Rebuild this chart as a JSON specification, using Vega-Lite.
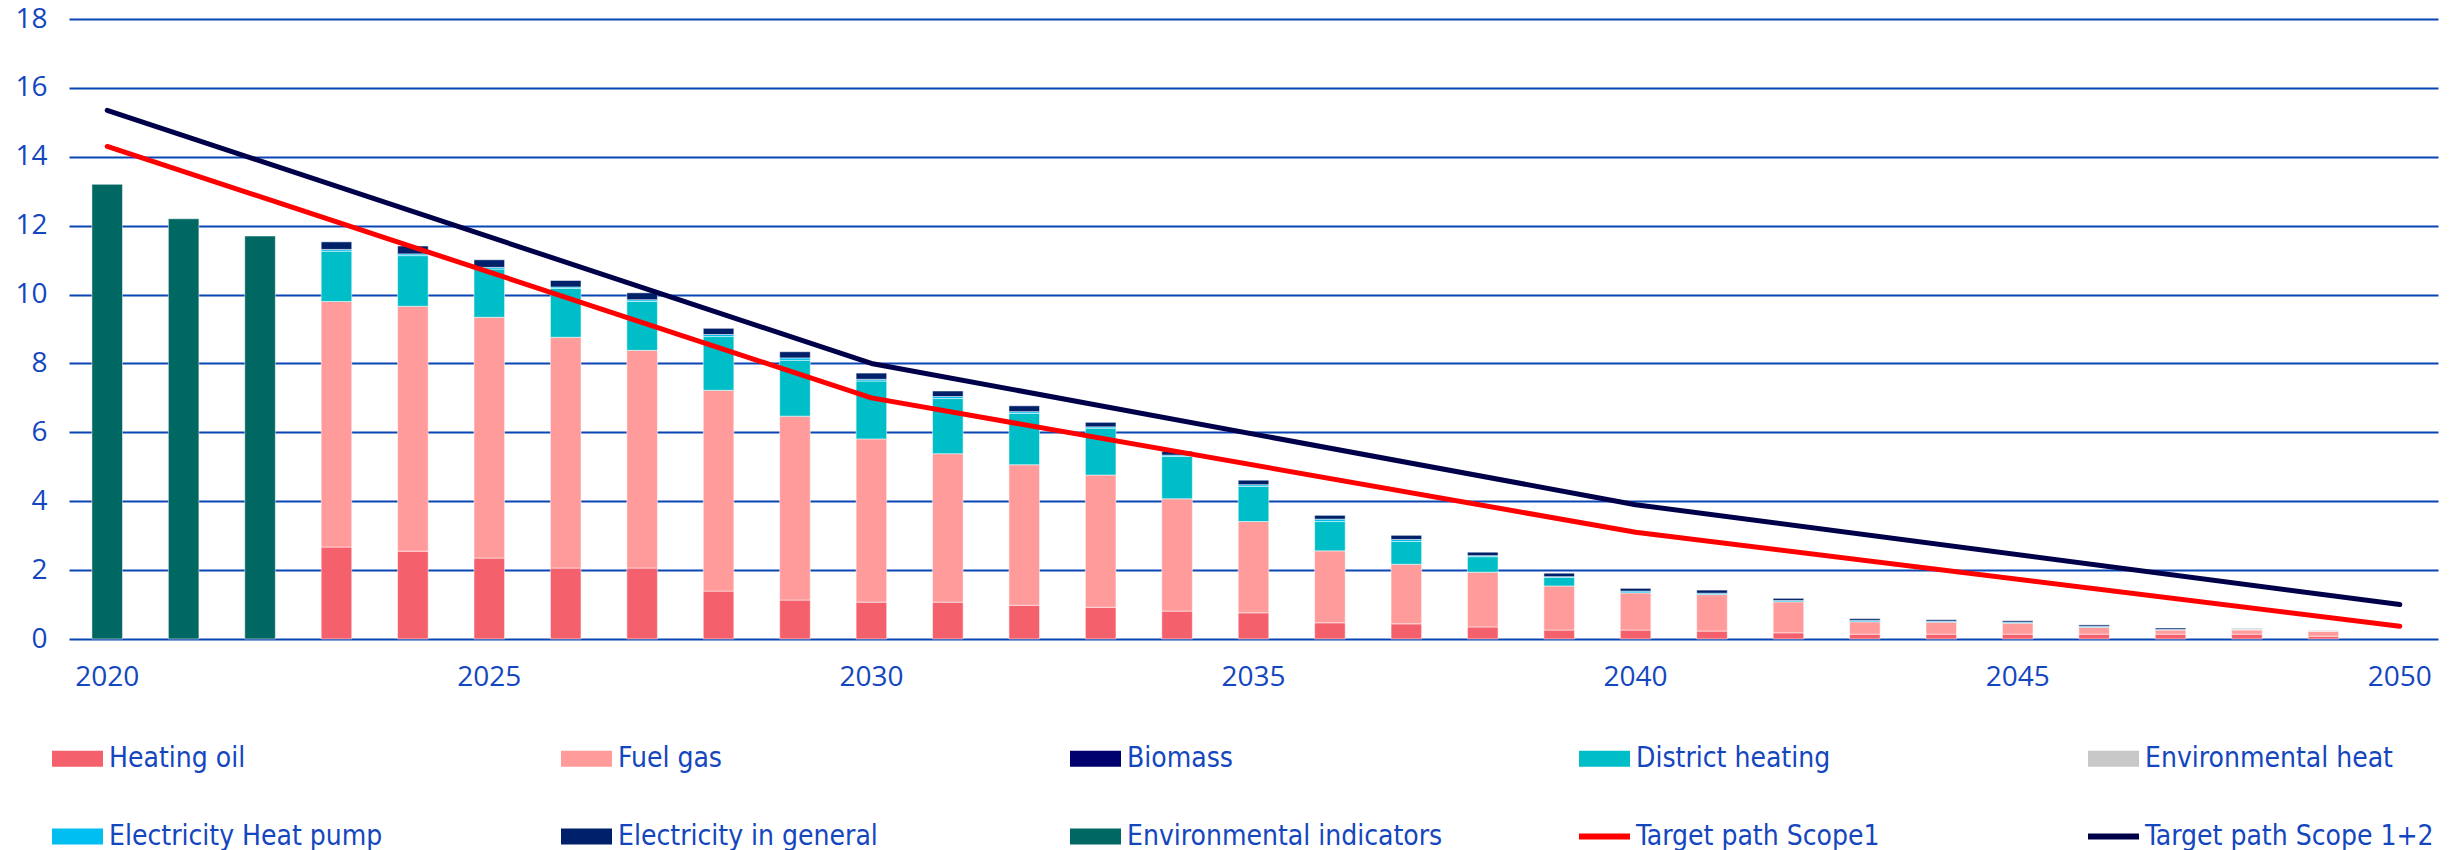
{
  "$schema": "https://vega.github.io/schema/vega-lite/v6.json",
  "width": 2369,
  "height": 620,
  "autosize": {"type": "none"},
  "padding": {"left": 69, "top": 19, "right": 17, "bottom": 211},
  "background": "white",
  "config": {
    "view": {"stroke": null},
    "font": "Open Sans"
  },
  "datasets": {
    "bars": [
      {"year": 2020, "category": "Environmental indicators", "value": 13.2},
      {"year": 2021, "category": "Environmental indicators", "value": 12.2},
      {"year": 2022, "category": "Environmental indicators", "value": 11.7},
      {"year": 2023, "category": "Heating oil", "value": 2.67},
      {"year": 2023, "category": "Fuel gas", "value": 7.13},
      {"year": 2023, "category": "District heating", "value": 1.46},
      {"year": 2023, "category": "Electricity Heat pump", "value": 0.05},
      {"year": 2023, "category": "Electricity in general", "value": 0.22},
      {"year": 2024, "category": "Heating oil", "value": 2.55},
      {"year": 2024, "category": "Fuel gas", "value": 7.11},
      {"year": 2024, "category": "District heating", "value": 1.47},
      {"year": 2024, "category": "Electricity Heat pump", "value": 0.05},
      {"year": 2024, "category": "Electricity in general", "value": 0.23},
      {"year": 2025, "category": "Heating oil", "value": 2.35},
      {"year": 2025, "category": "Fuel gas", "value": 6.99},
      {"year": 2025, "category": "District heating", "value": 1.40},
      {"year": 2025, "category": "Electricity Heat pump", "value": 0.05},
      {"year": 2025, "category": "Electricity in general", "value": 0.22},
      {"year": 2026, "category": "Heating oil", "value": 2.06},
      {"year": 2026, "category": "Fuel gas", "value": 6.70},
      {"year": 2026, "category": "District heating", "value": 1.42},
      {"year": 2026, "category": "Electricity Heat pump", "value": 0.04},
      {"year": 2026, "category": "Electricity in general", "value": 0.19},
      {"year": 2027, "category": "Heating oil", "value": 2.06},
      {"year": 2027, "category": "Fuel gas", "value": 6.32},
      {"year": 2027, "category": "District heating", "value": 1.42},
      {"year": 2027, "category": "Electricity Heat pump", "value": 0.05},
      {"year": 2027, "category": "Electricity in general", "value": 0.20},
      {"year": 2028, "category": "Heating oil", "value": 1.39},
      {"year": 2028, "category": "Fuel gas", "value": 5.83},
      {"year": 2028, "category": "District heating", "value": 1.56},
      {"year": 2028, "category": "Electricity Heat pump", "value": 0.06},
      {"year": 2028, "category": "Electricity in general", "value": 0.18},
      {"year": 2029, "category": "Heating oil", "value": 1.13},
      {"year": 2029, "category": "Fuel gas", "value": 5.34},
      {"year": 2029, "category": "District heating", "value": 1.62},
      {"year": 2029, "category": "Electricity Heat pump", "value": 0.07},
      {"year": 2029, "category": "Electricity in general", "value": 0.18},
      {"year": 2030, "category": "Heating oil", "value": 1.07},
      {"year": 2030, "category": "Fuel gas", "value": 4.74},
      {"year": 2030, "category": "District heating", "value": 1.68},
      {"year": 2030, "category": "Electricity Heat pump", "value": 0.05},
      {"year": 2030, "category": "Electricity in general", "value": 0.18},
      {"year": 2031, "category": "Heating oil", "value": 1.07},
      {"year": 2031, "category": "Fuel gas", "value": 4.31},
      {"year": 2031, "category": "District heating", "value": 1.60},
      {"year": 2031, "category": "Electricity Heat pump", "value": 0.06},
      {"year": 2031, "category": "Electricity in general", "value": 0.16},
      {"year": 2032, "category": "Heating oil", "value": 0.98},
      {"year": 2032, "category": "Fuel gas", "value": 4.08},
      {"year": 2032, "category": "District heating", "value": 1.49},
      {"year": 2032, "category": "Electricity Heat pump", "value": 0.05},
      {"year": 2032, "category": "Electricity in general", "value": 0.17},
      {"year": 2033, "category": "Heating oil", "value": 0.92},
      {"year": 2033, "category": "Fuel gas", "value": 3.84},
      {"year": 2033, "category": "District heating", "value": 1.36},
      {"year": 2033, "category": "Electricity Heat pump", "value": 0.04},
      {"year": 2033, "category": "Electricity in general", "value": 0.13},
      {"year": 2034, "category": "Heating oil", "value": 0.81},
      {"year": 2034, "category": "Fuel gas", "value": 3.26},
      {"year": 2034, "category": "District heating", "value": 1.23},
      {"year": 2034, "category": "Electricity Heat pump", "value": 0.04},
      {"year": 2034, "category": "Electricity in general", "value": 0.11},
      {"year": 2035, "category": "Heating oil", "value": 0.76},
      {"year": 2035, "category": "Fuel gas", "value": 2.65},
      {"year": 2035, "category": "District heating", "value": 1.02},
      {"year": 2035, "category": "Electricity Heat pump", "value": 0.05},
      {"year": 2035, "category": "Electricity in general", "value": 0.13},
      {"year": 2036, "category": "Heating oil", "value": 0.47},
      {"year": 2036, "category": "Fuel gas", "value": 2.09},
      {"year": 2036, "category": "District heating", "value": 0.85},
      {"year": 2036, "category": "Electricity Heat pump", "value": 0.07},
      {"year": 2036, "category": "Electricity in general", "value": 0.11},
      {"year": 2037, "category": "Heating oil", "value": 0.44},
      {"year": 2037, "category": "Fuel gas", "value": 1.73},
      {"year": 2037, "category": "District heating", "value": 0.66},
      {"year": 2037, "category": "Electricity Heat pump", "value": 0.06},
      {"year": 2037, "category": "Electricity in general", "value": 0.12},
      {"year": 2038, "category": "Heating oil", "value": 0.35},
      {"year": 2038, "category": "Fuel gas", "value": 1.59},
      {"year": 2038, "category": "District heating", "value": 0.45},
      {"year": 2038, "category": "Electricity Heat pump", "value": 0.03},
      {"year": 2038, "category": "Electricity in general", "value": 0.10},
      {"year": 2039, "category": "Heating oil", "value": 0.26},
      {"year": 2039, "category": "Fuel gas", "value": 1.28},
      {"year": 2039, "category": "District heating", "value": 0.25},
      {"year": 2039, "category": "Electricity Heat pump", "value": 0.02},
      {"year": 2039, "category": "Electricity in general", "value": 0.10},
      {"year": 2040, "category": "Heating oil", "value": 0.26},
      {"year": 2040, "category": "Fuel gas", "value": 1.08},
      {"year": 2040, "category": "Electricity Heat pump", "value": 0.05},
      {"year": 2040, "category": "Electricity in general", "value": 0.08},
      {"year": 2041, "category": "Heating oil", "value": 0.23},
      {"year": 2041, "category": "Fuel gas", "value": 1.06},
      {"year": 2041, "category": "Electricity Heat pump", "value": 0.04},
      {"year": 2041, "category": "Electricity in general", "value": 0.09},
      {"year": 2042, "category": "Heating oil", "value": 0.18},
      {"year": 2042, "category": "Fuel gas", "value": 0.90},
      {"year": 2042, "category": "Electricity Heat pump", "value": 0.04},
      {"year": 2042, "category": "Electricity in general", "value": 0.06},
      {"year": 2043, "category": "Heating oil", "value": 0.14},
      {"year": 2043, "category": "Fuel gas", "value": 0.36},
      {"year": 2043, "category": "Electricity Heat pump", "value": 0.04},
      {"year": 2043, "category": "Electricity in general", "value": 0.05},
      {"year": 2044, "category": "Heating oil", "value": 0.14},
      {"year": 2044, "category": "Fuel gas", "value": 0.35},
      {"year": 2044, "category": "Electricity Heat pump", "value": 0.03},
      {"year": 2044, "category": "Electricity in general", "value": 0.04},
      {"year": 2045, "category": "Heating oil", "value": 0.14},
      {"year": 2045, "category": "Fuel gas", "value": 0.32},
      {"year": 2045, "category": "Electricity Heat pump", "value": 0.03},
      {"year": 2045, "category": "Electricity in general", "value": 0.04},
      {"year": 2046, "category": "Heating oil", "value": 0.14},
      {"year": 2046, "category": "Fuel gas", "value": 0.20},
      {"year": 2046, "category": "Electricity Heat pump", "value": 0.03},
      {"year": 2046, "category": "Electricity in general", "value": 0.04},
      {"year": 2047, "category": "Heating oil", "value": 0.14},
      {"year": 2047, "category": "Fuel gas", "value": 0.12},
      {"year": 2047, "category": "Electricity Heat pump", "value": 0.02},
      {"year": 2047, "category": "Electricity in general", "value": 0.04},
      {"year": 2048, "category": "Heating oil", "value": 0.14},
      {"year": 2048, "category": "Fuel gas", "value": 0.12},
      {"year": 2048, "category": "Environmental heat", "value": 0.03},
      {"year": 2048, "category": "Electricity Heat pump", "value": 0.01},
      {"year": 2048, "category": "Electricity in general", "value": 0.01},
      {"year": 2049, "category": "Heating oil", "value": 0.08},
      {"year": 2049, "category": "Fuel gas", "value": 0.14},
      {"year": 2049, "category": "Environmental heat", "value": 0.03}
    ],
    "targets": [
      {"year": 2020, "category": "Target path Scope1", "value": 14.3},
      {"year": 2030, "category": "Target path Scope1", "value": 7.0},
      {"year": 2040, "category": "Target path Scope1", "value": 3.1},
      {"year": 2050, "category": "Target path Scope1", "value": 0.37},
      {"year": 2020, "category": "Target path Scope 1+2", "value": 15.35},
      {"year": 2030, "category": "Target path Scope 1+2", "value": 8.0},
      {"year": 2040, "category": "Target path Scope 1+2", "value": 3.9},
      {"year": 2050, "category": "Target path Scope 1+2", "value": 1.0}
    ]
  },
  "encoding": {
    "x": {
      "field": "year",
      "type": "ordinal",
      "scale": {"paddingInner": 0.6, "paddingOuter": 0.3},
      "axis": {
        "title": null,
        "values": [2020, 2025, 2030, 2035, 2040, 2045, 2050],
        "labelAngle": 0,
        "domain": false,
        "ticks": false,
        "labelFontSize": 28,
        "labelColor": "#1446BE",
        "labelPadding": 24,
        "labelFont": "Open Sans"
      }
    },
    "y": {
      "field": "value",
      "type": "quantitative",
      "scale": {"domain": [0, 18], "nice": false},
      "axis": {
        "title": null,
        "values": [0, 2, 4, 6, 8, 10, 12, 14, 16, 18],
        "domain": false,
        "ticks": false,
        "grid": true,
        "gridColor": "#0A45B4",
        "gridWidth": 2,
        "gridOpacity": 1,
        "labelFontSize": 28,
        "labelColor": "#1446BE",
        "labelPadding": 22,
        "labelFont": "Open Sans"
      }
    },
    "color": {
      "field": "category",
      "type": "nominal",
      "scale": {
        "domain": ["Heating oil", "Fuel gas", "Biomass", "District heating", "Environmental heat", "Electricity Heat pump", "Electricity in general", "Environmental indicators", "Target path Scope1", "Target path Scope 1+2"],
        "range": ["#F4606C", "#FF9B9B", "#00006E", "#00BEC8", "#C8C8C8", "#00BEF0", "#00216A", "#006763", "#FF0000", "#00004A"]
      },
      "legend": {
        "title": null,
        "orient": "none",
        "legendX": -17,
        "legendY": 714,
        "direction": "horizontal",
        "columns": 5,
        "gridAlign": "all",
        "columnPadding": 136,
        "rowPadding": 38,
        "symbolType": "square",
        "symbolSize": 2601,
        "labelFontSize": 28,
        "labelFont": "Liberation Sans Narrow, DejaVu Sans Condensed, sans-serif",
        "labelColor": "#1446BE",
        "labelOffset": 6,
        "labelLimit": 600,
        "encode": {
          "symbols": {
            "update": {
              "shape": {"signal": "indexof(['Target path Scope1','Target path Scope 1+2'], datum.value) >= 0 ? 'M-1,-0.12H1V0.12H-1Z' : 'M-1,-0.31H1V0.31H-1Z'"},
              "fill": {"signal": "scale('color', datum.value)"},
              "stroke": {"value": "transparent"},
              "strokeWidth": {"value": 0},
              "opacity": {"value": 1},
              "fillOpacity": {"value": 1}
            }
          }
        }
      }
    }
  },
  "layer": [
    {
      "data": {"name": "bars"},
      "transform": [
        {"calculate": "indexof(['Heating oil','Fuel gas','Biomass','District heating','Environmental heat','Electricity Heat pump','Electricity in general','Environmental indicators'], datum.category)", "as": "stackOrder"}
      ],
      "mark": {"type": "bar", "stroke": "white", "strokeWidth": 1, "strokeOpacity": 0.5},
      "encoding": {
        "y": {"field": "value", "type": "quantitative", "stack": "zero"},
        "order": {"field": "stackOrder", "type": "quantitative", "sort": "ascending"}
      }
    },
    {
      "data": {"name": "targets"},
      "mark": {"type": "line", "strokeWidth": 5, "strokeCap": "round", "strokeJoin": "round"},
      "encoding": {}
    }
  ]
}
